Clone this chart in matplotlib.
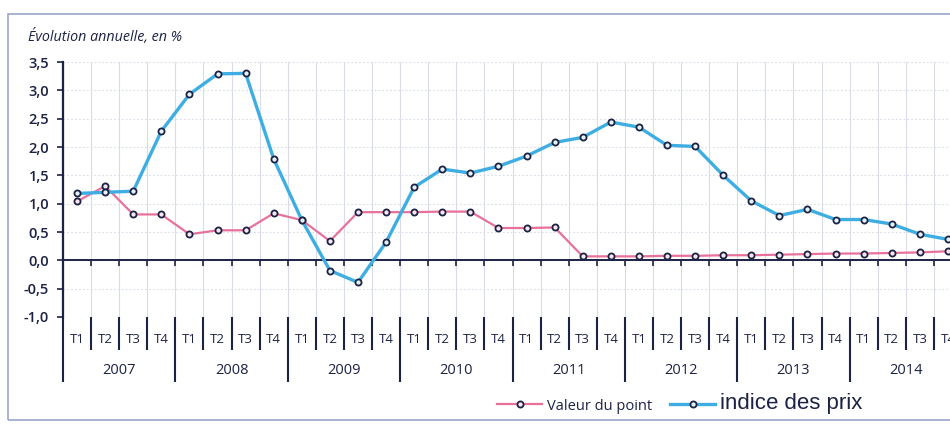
import matplotlib
matplotlib.use("Agg")
import matplotlib.pyplot as plt
from matplotlib.patches import Rectangle

# ---- data ----
years = ["2007", "2008", "2009", "2010", "2011", "2012", "2013", "2014"]
quarters = ["T1", "T2", "T3", "T4"]
valeur_du_point = [1.04, 1.31, 0.81, 0.81,
                   0.46, 0.53, 0.53, 0.83,
                   0.71, 0.34, 0.85, 0.85,
                   0.85, 0.86, 0.86, 0.57,
                   0.57, 0.58, 0.07, 0.07,
                   0.07, 0.08, 0.08, 0.09,
                   0.09, 0.10, 0.11, 0.12,
                   0.12, 0.13, 0.14, 0.16]
indice_des_prix = [1.18, 1.20, 1.22, 2.28,
                   2.93, 3.29, 3.30, 1.79,
                   0.71, -0.18, -0.39, 0.32,
                   1.29, 1.61, 1.54, 1.66,
                   1.84, 2.08, 2.17, 2.44,
                   2.35, 2.03, 2.01, 1.50,
                   1.05, 0.79, 0.90, 0.72,
                   0.72, 0.64, 0.46, 0.37]
y_ticks = [-1.0, -0.5, 0.0, 0.5, 1.0, 1.5, 2.0, 2.5, 3.0, 3.5]
title = "Évolution annuelle, en %"
legend_labels = ["Valeur du point", "indice des prix"]

# ---- style ----
NAVY = "#1c2244"
PINK = "#e8719c"
BLUE = "#3eaee2"
GRID = "#d9dce8"
FONT = "Open Sans"

n = len(valeur_du_point)
x = list(range(n))
bounds = [i - 0.5 for i in range(n + 1)]

fig = plt.figure(figsize=(9.5, 4.26), dpi=100)
fig.patch.set_facecolor("white")
ax = fig.add_axes([63 / 950, 109 / 426, 899 / 950, 255 / 426])

ax.set_xlim(-0.5, n - 0.5)
ax.set_ylim(-1.0, 3.5)

# grid
ax.set_xticks(bounds)
ax.set_xticklabels([])
ax.set_yticks(y_ticks)
ax.set_yticklabels([f"{v:.1f}".replace(".", ",") for v in y_ticks],
                   fontfamily=FONT, fontweight="semibold", fontsize=10.5, color=NAVY)
ax.xaxis.grid(True, color=GRID, lw=0.8, ls="-")
ax.yaxis.grid(True, color=GRID, lw=0.8, ls=(0, (1.5, 2)))
ax.set_axisbelow(True)

for s in ["top", "right"]:
    ax.spines[s].set_visible(False)
ax.spines["bottom"].set_position(("data", 0))
ax.spines["bottom"].set_color(NAVY)
ax.spines["bottom"].set_linewidth(1.4)
ax.spines["left"].set_color(NAVY)
ax.spines["left"].set_linewidth(1.6)
ax.tick_params(axis="x", direction="out", length=4, width=1.2, color=NAVY)
ax.tick_params(axis="y", direction="out", length=4, width=1.2, color=NAVY, pad=6)

# series
l1, = ax.plot(x, valeur_du_point, color=PINK, lw=1.6, marker="o", ms=4.4,
              mec=NAVY, mew=1.3, mfc="#f7e6ee", zorder=3)
l2, = ax.plot(x, indice_des_prix, color=BLUE, lw=2.4, marker="o", ms=4.4,
              mec=NAVY, mew=1.3, mfc="#e4f3fb", zorder=4)

# category axis (quarters / years)
tr = ax.get_xaxis_transform()
for i, b in enumerate(bounds):
    bottom = -0.255 if i % 4 == 0 else -0.129
    ax.plot([b, b], [0, bottom], transform=tr, color=NAVY, lw=1.5,
            clip_on=False, solid_capstyle="butt")
for i in x:
    ax.text(i, -0.09, quarters[i % 4], transform=tr, ha="center", va="center",
            fontfamily=FONT, fontsize=9.5, color=NAVY)
for k, yr in enumerate(years):
    ax.text(4 * k + 1.5, -0.208, yr, transform=tr, ha="center", va="center",
            fontfamily=FONT, fontsize=10.5, color=NAVY)

# title
fig.text(28 / 950, 1 - 37 / 426, title, ha="left", va="center",
         fontfamily=FONT, fontstyle="italic", fontsize=10.3, color=NAVY)

# legend
leg = ax.legend([l1, l2], legend_labels, loc="center left",
                bbox_to_anchor=(497 / 950, 22 / 426), bbox_transform=fig.transFigure,
                ncol=2, frameon=False, handlelength=3.1, handletextpad=0.35,
                columnspacing=1.2, borderpad=0, borderaxespad=0,
                prop={"family": FONT, "size": 10.5})
t1, t2 = leg.get_texts()
t1.set_color(NAVY)
t2.set_color(NAVY)
t2.set_fontfamily("Liberation Sans")
t2.set_fontsize(16)

# frame
fig.add_artist(Rectangle((8 / 950, 6 / 426), 1.0, (412 - 6) / 426,
                         transform=fig.transFigure, fill=False,
                         edgecolor="#9aa6cc", lw=1.2))

fig.savefig("out.png", dpi=100)
